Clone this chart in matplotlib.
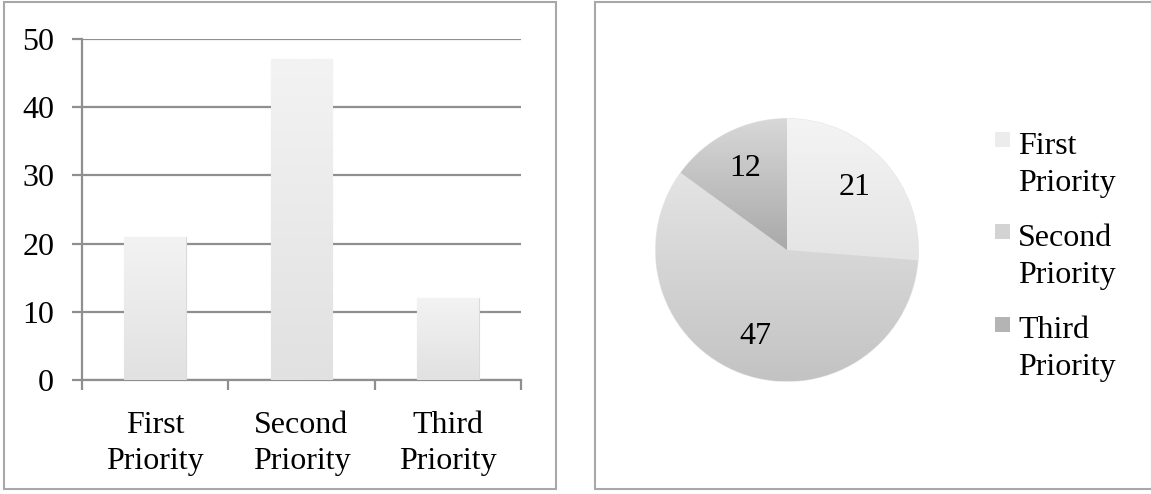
"""barras e pizza das prioridades."""

import matplotlib

matplotlib.use("Agg")
import matplotlib.pyplot as plt
import numpy as np
from matplotlib.colors import LinearSegmentedColormap
from matplotlib.patches import Rectangle

categories = ["First\nPriority", "Second\nPriority", "Third\nPriority"]
counts = [21, 47, 12]
y_ticks = [0, 10, 20, 30, 40, 50]

bar_colors = ("#f3f3f3", "#e1e1e1")
wedge_colors = [("#f4f4f4", "#e4e4e4"), ("#e4e4e4", "#c3c3c3"), ("#d8d8d8", "#a9a9a9")]
legend_colors = ["#ececec", "#d3d3d3", "#b4b4b4"]

GRID = "#8f8f8f"
BORDER = "#a8a8a8"

plt.rcParams["font.family"] = ["Liberation Serif", "DejaVu Serif"]
plt.rcParams["font.size"] = 23


def gradient_fill(ax, patch, top, bottom, extent):
    """pintar gradiente vertical recortado pelo patch."""
    cmap = LinearSegmentedColormap.from_list("g", [bottom, top])
    grad = np.linspace(0, 1, 256).reshape(-1, 1)
    img = ax.imshow(grad, cmap=cmap, extent=extent, origin="lower",
                    aspect="auto", zorder=patch.get_zorder() + 0.1)
    img.set_clip_path(patch)


fig = plt.figure(figsize=(11.51, 4.94), dpi=100)

# molduras dos dois painéis
for x0, x1 in [(4, 556), (595, 1152)]:
    fig.add_artist(Rectangle((x0 / 1151, 5 / 494), (x1 - x0) / 1151, 487 / 494,
                             transform=fig.transFigure, fill=False,
                             edgecolor=BORDER, linewidth=1.5))

# painel de barras
ax = fig.add_axes([82 / 1151, 1 - 380 / 494, 439 / 1151, 341 / 494])
x = np.arange(len(categories))
bars = ax.bar(x, counts, width=0.42, color=bar_colors[0],
              edgecolor="#dadada", linewidth=0.8, zorder=3)
for rect in bars:
    x0 = rect.get_x()
    gradient_fill(ax, rect, *bar_colors, (x0, x0 + rect.get_width(), 0, rect.get_height()))

ax.set_xlim(-0.5, len(categories) - 0.5)
ax.set_ylim(0, 50)
ax.set_yticks(y_ticks)
ax.yaxis.grid(True, color=GRID, linewidth=1.6, zorder=1)
ax.set_axisbelow(True)
ax.set_xticks(np.arange(len(categories) + 1) - 0.5)
ax.set_xticklabels([])
ax.set_xticks(x, minor=True)
ax.set_xticklabels(categories, minor=True, linespacing=1.32)
ax.tick_params(axis="x", which="major", direction="out", length=7, width=1.6, color=GRID)
ax.tick_params(axis="x", which="minor", length=0, pad=22)
ax.tick_params(axis="y", direction="out", length=7, width=1.6, color=GRID, pad=13)
for side in ["top", "right"]:
    ax.spines[side].set_visible(False)
for side in ["left", "bottom"]:
    ax.spines[side].set_color(GRID)
    ax.spines[side].set_linewidth(1.6)

# painel de pizza
pax = fig.add_axes([653 / 1151, 1 - 384 / 494, 268 / 1151, 268 / 494])
wedges, _, autotexts = pax.pie(counts, startangle=90, counterclock=False,
                               autopct=lambda p: f"{p * sum(counts) / 100:.0f}",
                               pctdistance=0.7, radius=1,
                               wedgeprops=dict(edgecolor="#e6e6e6", linewidth=0.8),
                               textprops=dict(fontsize=23))
for w, (top, bottom) in zip(wedges, wedge_colors):
    w.set_facecolor(top)
    bb = w.get_path().get_extents(w.get_patch_transform())
    gradient_fill(pax, w, top, bottom, (bb.x0, bb.x1, bb.y0, bb.y1))
for t in autotexts:
    t.set_zorder(5)
pax.set_xlim(-1.02, 1.02)
pax.set_ylim(-1.02, 1.02)
pax.set_aspect("equal")
pax.axis("off")

# legenda da pizza
for i, (label, color) in enumerate(zip(categories, legend_colors)):
    yc = 140 + i * 92
    fig.add_artist(Rectangle((995 / 1151, 1 - (yc + 7.5) / 494), 15 / 1151, 15 / 494,
                             transform=fig.transFigure, facecolor=color,
                             edgecolor="none"))
    fig.text(1018 / 1151, 1 - (yc + 25) / 494, label, va="center", ha="left",
             linespacing=1.32)

fig.savefig("out.png", dpi=100)
